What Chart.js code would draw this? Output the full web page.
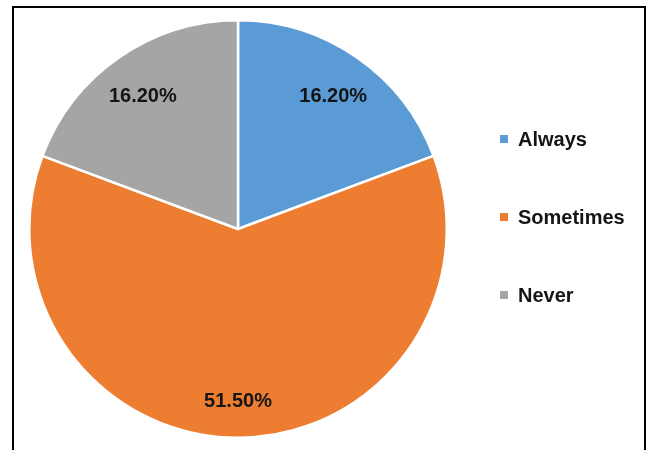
<!DOCTYPE html>
<html>
<head>
<meta charset="utf-8">
<script src="https://cdn.jsdelivr.net/npm/chart.js@4/dist/chart.umd.min.js"></script>
<style>
  html, body { margin: 0; padding: 0; background: #fff; overflow: hidden; }
  #wrap { position: relative; width: 652px; height: 450px; }
  #frame {
    position: absolute; left: 12px; top: 6px;
    width: 634px; height: 520px;
    box-sizing: border-box; border: 2px solid #000;
  }
  #chart { position: absolute; left: 0; top: 0; }
</style>
</head>
<body>
<div id="wrap">
  <div id="frame"></div>
  <canvas id="chart" width="652" height="450"></canvas>
</div>
<script>
// Answer categories and their shares (percent)
const CATEGORIES = ["Always", "Sometimes", "Never"];
const SHARES = [16.2, 51.5, 16.2];
const COLORS = ["#5B9BD5", "#ED7D31", "#A5A5A5"];

const FONT = "'Liberation Sans', Arial, sans-serif";

// percent text inside each slice
const sliceLabels = {
  id: "sliceLabels",
  afterDatasetsDraw(chart) {
    const ctx = chart.ctx;
    const meta = chart.getDatasetMeta(0);
    ctx.save();
    ctx.font = "bold 20px " + FONT;
    ctx.fillStyle = "#141414";
    ctx.textAlign = "center";
    ctx.textBaseline = "middle";
    meta.data.forEach((arc, i) => {
      const p = arc.getProps(["x", "y", "startAngle", "endAngle", "outerRadius"], true);
      const mid = (p.startAngle + p.endAngle) / 2;
      const r = p.outerRadius * 0.8;
      const text = SHARES[i].toFixed(2) + "%";
      ctx.fillText(text, p.x + Math.cos(mid) * r, p.y + Math.sin(mid) * r + 5);
    });
    ctx.restore();
  }
};

// legend on the right: small square + bold label
const sideLegend = {
  id: "sideLegend",
  afterDraw(chart) {
    const ctx = chart.ctx;
    const x = 500, y0 = 140, gap = 78, box = 8;
    ctx.save();
    ctx.font = "bold 20px " + FONT;
    ctx.textBaseline = "middle";
    chart.data.labels.forEach((label, i) => {
      const y = y0 + i * gap;
      ctx.fillStyle = COLORS[i];
      ctx.fillRect(x, y - box / 2 - 1, box, box);
      ctx.fillStyle = "#141414";
      ctx.fillText(label, x + 18, y);
    });
    ctx.restore();
  }
};

new Chart(document.getElementById("chart"), {
  type: "pie",
  data: {
    labels: CATEGORIES,
    datasets: [{
      data: SHARES,
      backgroundColor: COLORS,
      borderColor: "#ffffff",
      borderWidth: 2.5
    }]
  },
  options: {
    responsive: false,
    animation: false,
    devicePixelRatio: 1,
    layout: { padding: { left: 28, right: 204, top: 19, bottom: 11 } },
    plugins: {
      legend: { display: false },
      tooltip: { enabled: false }
    }
  },
  plugins: [sliceLabels, sideLegend]
});
</script>
</body>
</html>
